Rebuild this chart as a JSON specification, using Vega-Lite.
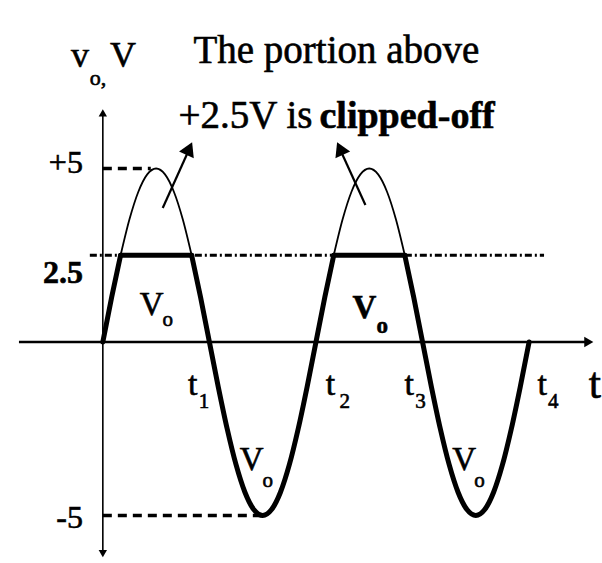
{
  "$schema": "https://vega.github.io/schema/vega-lite/v6.json",
  "width": 602,
  "height": 563,
  "padding": 0,
  "autosize": {"type": "fit", "contains": "padding"},
  "background": "white",
  "config": {"view": {"stroke": null}, "text": {"font": "Liberation Serif", "color": "black", "stroke": "black", "strokeWidth": 0.6}},
  "datasets": {
    "t_axis": [{"t": -0.787, "v": 0, "t2": 4.55, "v2": 0}],
    "v_axis": [{"t": 0, "v": -6.0, "t2": 0, "v2": 6.55}],
    "v_axis_top": [{"t": 0, "v": 6.6}],
    "v_axis_bottom": [{"t": 0, "v": -6.1}],
    "t_axis_end": [{"t": 4.56, "v": 0}],
    "clip_level": [{"t": -0.122, "v": 2.5, "t2": 4.14, "v2": 2.5}],
    "peak_levels": [
      {"t": 0, "v": 5, "t2": 0.45, "v2": 5},
      {"t": 0, "v": -5, "t2": 1.5, "v2": -5}
    ],
    "clipped_tops": [
      {"hump": 1, "t": 0.1667, "v": 2.5},
      {"hump": 1, "t": 0.25, "v": 3.536},
      {"hump": 1, "t": 0.3333, "v": 4.33},
      {"hump": 1, "t": 0.4167, "v": 4.83},
      {"hump": 1, "t": 0.5, "v": 5},
      {"hump": 1, "t": 0.5833, "v": 4.83},
      {"hump": 1, "t": 0.6667, "v": 4.33},
      {"hump": 1, "t": 0.75, "v": 3.536},
      {"hump": 1, "t": 0.8333, "v": 2.5},
      {"hump": 2, "t": 2.1667, "v": 2.5},
      {"hump": 2, "t": 2.25, "v": 3.536},
      {"hump": 2, "t": 2.3333, "v": 4.33},
      {"hump": 2, "t": 2.4167, "v": 4.83},
      {"hump": 2, "t": 2.5, "v": 5},
      {"hump": 2, "t": 2.5833, "v": 4.83},
      {"hump": 2, "t": 2.6667, "v": 4.33},
      {"hump": 2, "t": 2.75, "v": 3.536},
      {"hump": 2, "t": 2.8333, "v": 2.5}
    ],
    "vo": [
      {"seg": "a", "t": 0, "v": 0},
      {"seg": "a", "t": 0.0833, "v": 1.294},
      {"seg": "a", "t": 0.1667, "v": 2.5},
      {"seg": "b", "t": 0.1667, "v": 2.5},
      {"seg": "b", "t": 0.8333, "v": 2.5},
      {"seg": "c", "t": 0.8333, "v": 2.5},
      {"seg": "c", "t": 0.9167, "v": 1.294},
      {"seg": "c", "t": 1.0, "v": 0},
      {"seg": "c", "t": 1.0833, "v": -1.294},
      {"seg": "c", "t": 1.1667, "v": -2.5},
      {"seg": "c", "t": 1.25, "v": -3.536},
      {"seg": "c", "t": 1.3333, "v": -4.33},
      {"seg": "c", "t": 1.4167, "v": -4.83},
      {"seg": "c", "t": 1.5, "v": -5},
      {"seg": "c", "t": 1.5833, "v": -4.83},
      {"seg": "c", "t": 1.6667, "v": -4.33},
      {"seg": "c", "t": 1.75, "v": -3.536},
      {"seg": "c", "t": 1.8333, "v": -2.5},
      {"seg": "c", "t": 1.9167, "v": -1.294},
      {"seg": "c", "t": 2.0, "v": 0},
      {"seg": "c", "t": 2.0833, "v": 1.294},
      {"seg": "c", "t": 2.1667, "v": 2.5},
      {"seg": "d", "t": 2.1667, "v": 2.5},
      {"seg": "d", "t": 2.8333, "v": 2.5},
      {"seg": "e", "t": 2.8333, "v": 2.5},
      {"seg": "e", "t": 2.9167, "v": 1.294},
      {"seg": "e", "t": 3.0, "v": 0},
      {"seg": "e", "t": 3.0833, "v": -1.294},
      {"seg": "e", "t": 3.1667, "v": -2.5},
      {"seg": "e", "t": 3.25, "v": -3.536},
      {"seg": "e", "t": 3.3333, "v": -4.33},
      {"seg": "e", "t": 3.4167, "v": -4.83},
      {"seg": "e", "t": 3.5, "v": -5},
      {"seg": "e", "t": 3.5833, "v": -4.83},
      {"seg": "e", "t": 3.6667, "v": -4.33},
      {"seg": "e", "t": 3.75, "v": -3.536},
      {"seg": "e", "t": 3.8333, "v": -2.5},
      {"seg": "e", "t": 3.9167, "v": -1.294},
      {"seg": "e", "t": 4.0, "v": 0}
    ],
    "note_arrows": [
      {"t": 0.562, "v": 3.862, "t2": 0.82, "v2": 5.62},
      {"t": 2.464, "v": 3.948, "t2": 2.216, "v2": 5.62}
    ],
    "note_head_right": [{"t": 0.811, "v": 5.576}],
    "note_head_left": [{"t": 2.225, "v": 5.576}],
    "title_line": [{"t": 2.192, "v": 8.04, "text": "The portion above"}],
    "note_plain": [{"t": 1.967, "v": 6.167, "text": "+2.5V is"}],
    "note_bold": [{"t": 2.033, "v": 6.167, "text": "clipped-off"}],
    "vname_main": [
      {"t": -0.215, "v": 7.925, "text": "v"},
      {"t": 0.19, "v": 7.925, "text": "V"}
    ],
    "vname_sub": [{"t": -0.122, "v": 7.406, "text": "o,"}],
    "level_labels": [
      {"t": -0.187, "v": 5.158, "text": "+5"},
      {"t": -0.187, "v": -5.07, "text": "-5"}
    ],
    "level_label_bold": [{"t": -0.187, "v": 1.99, "text": "2.5"}],
    "t_marks": [
      {"t": 0.843, "v": -1.527, "text": "t"},
      {"t": 2.136, "v": -1.527, "text": "t"},
      {"t": 2.876, "v": -1.527, "text": "t"},
      {"t": 4.122, "v": -1.527, "text": "t"}
    ],
    "t_subs": [
      {"t": 0.899, "v": -1.902, "text": "1"},
      {"t": 2.22, "v": -1.902, "text": "2"},
      {"t": 2.932, "v": -1.902, "text": "3"},
      {"t": 4.178, "v": -1.902, "text": "4"}
    ],
    "t_name": [{"t": 4.618, "v": -1.614, "text": "t"}],
    "vo_main": [
      {"t": 0.459, "v": 0.778, "text": "V"},
      {"t": 1.396, "v": -3.689, "text": "V"},
      {"t": 3.391, "v": -3.689, "text": "V"}
    ],
    "vo_sub": [
      {"t": 0.56, "v": 0.461, "text": "o"},
      {"t": 1.499, "v": -4.179, "text": "o"},
      {"t": 3.485, "v": -4.179, "text": "o"}
    ],
    "vo_main_bold": [{"t": 2.454, "v": 0.692, "text": "V"}],
    "vo_sub_bold": [{"t": 2.567, "v": 0.259, "text": "o"}]
  },
  "encoding": {
    "x": {"field": "t", "type": "quantitative", "scale": {"domain": [-0.9649, 4.6745], "nice": false, "zero": false}, "axis": null},
    "y": {"field": "v", "type": "quantitative", "scale": {"domain": [-6.369, 9.856], "nice": false, "zero": false}, "axis": null}
  },
  "layer": [
    {
      "data": {"name": "t_axis"},
      "mark": {"type": "rule", "color": "black", "strokeWidth": 2.6},
      "encoding": {"x2": {"field": "t2"}, "y2": {"field": "v2"}}
    },
    {
      "data": {"name": "v_axis"},
      "mark": {"type": "rule", "color": "black", "strokeWidth": 1.6},
      "encoding": {"x2": {"field": "t2"}, "y2": {"field": "v2"}}
    },
    {
      "data": {"name": "v_axis_top"},
      "mark": {"type": "point", "shape": "triangle-up", "filled": true, "color": "black", "size": 70, "opacity": 1}
    },
    {
      "data": {"name": "v_axis_bottom"},
      "mark": {"type": "point", "shape": "triangle-down", "filled": true, "color": "black", "size": 70, "opacity": 1}
    },
    {
      "data": {"name": "t_axis_end"},
      "mark": {"type": "point", "shape": "triangle-right", "filled": true, "color": "black", "size": 110, "opacity": 1}
    },
    {
      "data": {"name": "clip_level"},
      "mark": {"type": "rule", "color": "black", "strokeWidth": 3, "strokeDash": [7, 3, 2, 3]},
      "encoding": {"x2": {"field": "t2"}, "y2": {"field": "v2"}}
    },
    {
      "data": {"name": "peak_levels"},
      "mark": {"type": "rule", "color": "black", "strokeWidth": 3.5, "strokeDash": [9, 6]},
      "encoding": {"x2": {"field": "t2"}, "y2": {"field": "v2"}}
    },
    {
      "data": {"name": "clipped_tops"},
      "mark": {"type": "line", "color": "black", "strokeWidth": 1.8, "interpolate": "monotone"},
      "encoding": {"detail": {"field": "hump", "type": "nominal"}}
    },
    {
      "data": {"name": "vo"},
      "mark": {"type": "line", "color": "black", "strokeWidth": 5, "interpolate": "monotone", "strokeCap": "round", "strokeJoin": "round"},
      "encoding": {"detail": {"field": "seg", "type": "nominal"}}
    },
    {
      "data": {"name": "note_arrows"},
      "mark": {"type": "rule", "color": "black", "strokeWidth": 2.2},
      "encoding": {"x2": {"field": "t2"}, "y2": {"field": "v2"}}
    },
    {
      "data": {"name": "note_head_right"},
      "mark": {"type": "point", "shape": "triangle-up", "filled": true, "color": "black", "size": 260, "angle": 24, "opacity": 1}
    },
    {
      "data": {"name": "note_head_left"},
      "mark": {"type": "point", "shape": "triangle-up", "filled": true, "color": "black", "size": 260, "angle": 336, "opacity": 1}
    },
    {
      "data": {"name": "title_line"},
      "mark": {"type": "text", "fontSize": 39, "align": "center", "baseline": "alphabetic"},
      "encoding": {"text": {"field": "text"}}
    },
    {
      "data": {"name": "note_plain"},
      "mark": {"type": "text", "fontSize": 39, "align": "right", "baseline": "alphabetic"},
      "encoding": {"text": {"field": "text"}}
    },
    {
      "data": {"name": "note_bold"},
      "mark": {"type": "text", "fontSize": 38, "fontWeight": "bold", "align": "left", "baseline": "alphabetic"},
      "encoding": {"text": {"field": "text"}}
    },
    {
      "data": {"name": "vname_main"},
      "mark": {"type": "text", "fontSize": 36, "align": "center", "baseline": "alphabetic"},
      "encoding": {"text": {"field": "text"}}
    },
    {
      "data": {"name": "vname_sub"},
      "mark": {"type": "text", "fontSize": 22, "align": "left", "baseline": "alphabetic"},
      "encoding": {"text": {"field": "text"}}
    },
    {
      "data": {"name": "level_labels"},
      "mark": {"type": "text", "fontSize": 32, "align": "right", "baseline": "middle"},
      "encoding": {"text": {"field": "text"}}
    },
    {
      "data": {"name": "level_label_bold"},
      "mark": {"type": "text", "fontSize": 32, "fontWeight": "bold", "align": "right", "baseline": "middle"},
      "encoding": {"text": {"field": "text"}}
    },
    {
      "data": {"name": "t_marks"},
      "mark": {"type": "text", "fontSize": 34, "align": "center", "baseline": "alphabetic"},
      "encoding": {"text": {"field": "text"}}
    },
    {
      "data": {"name": "t_subs"},
      "mark": {"type": "text", "fontSize": 21, "align": "left", "baseline": "alphabetic"},
      "encoding": {"text": {"field": "text"}}
    },
    {
      "data": {"name": "t_name"},
      "mark": {"type": "text", "fontSize": 44, "align": "center", "baseline": "alphabetic"},
      "encoding": {"text": {"field": "text"}}
    },
    {
      "data": {"name": "vo_main"},
      "mark": {"type": "text", "fontSize": 33, "align": "center", "baseline": "alphabetic"},
      "encoding": {"text": {"field": "text"}}
    },
    {
      "data": {"name": "vo_sub"},
      "mark": {"type": "text", "fontSize": 21, "align": "left", "baseline": "alphabetic"},
      "encoding": {"text": {"field": "text"}}
    },
    {
      "data": {"name": "vo_main_bold"},
      "mark": {"type": "text", "fontSize": 33, "fontWeight": "bold", "align": "center", "baseline": "alphabetic"},
      "encoding": {"text": {"field": "text"}}
    },
    {
      "data": {"name": "vo_sub_bold"},
      "mark": {"type": "text", "fontSize": 23, "fontWeight": "bold", "align": "left", "baseline": "alphabetic"},
      "encoding": {"text": {"field": "text"}}
    }
  ]
}
